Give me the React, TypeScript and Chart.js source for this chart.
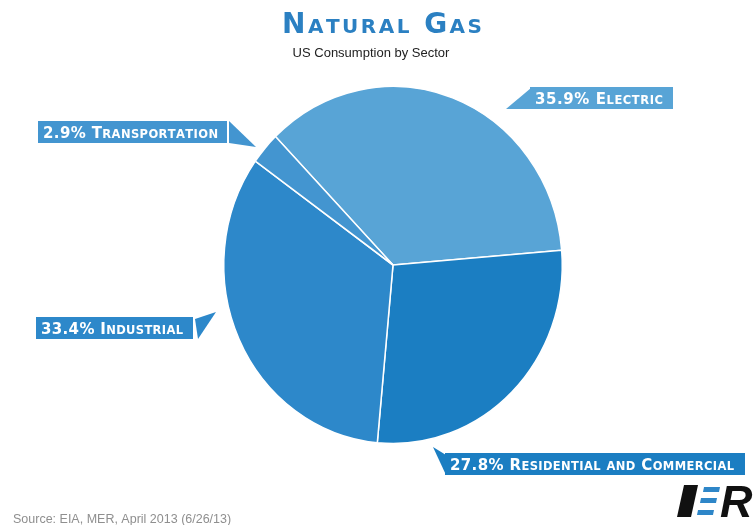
import React, { useEffect, useRef } from "react";
import { Chart, registerables } from "chart.js";

Chart.register(...registerables);

const categories = ["Electric", "Residential and Commercial", "Industrial", "Transportation"];
const shares = [35.9, 27.8, 33.4, 2.9];
const sliceColors = ["#58A4D6", "#1B7EC2", "#2D88CA", "#4395D0"];
const titleText = "Natural Gas";
const subtitleText = "US Consumption by Sector";
const sourceText = "Source: EIA, MER, April 2013 (6/26/13)";

// callout placement (layout only)
const callouts = [
  { box: [530, 87, 143, 22], ptr: [[531, 88], [506, 109], [531, 109]], textW: 128 },
  { box: [445, 453, 300, 22], ptr: [[433, 447], [446, 455], [446, 475]], textW: 284 },
  { box: [36, 317, 157, 22], ptr: [[195, 319], [216, 312], [198, 339]], textW: 142 },
  { box: [38, 121, 189, 22], ptr: [[229, 121], [256, 147], [229, 143]], textW: 175 },
];

function drawSmallCaps(
  ctx: CanvasRenderingContext2D,
  text: string,
  x: number,
  y: number,
  big: number,
  small: number,
  family: string,
  weight: string,
  targetW?: number,
  align: "left" | "center" = "left"
) {
  const parts = [...text].map((ch) => {
    const low = ch !== ch.toUpperCase();
    return { ch: ch.toUpperCase(), size: low ? small : big };
  });
  const widths = parts.map((p) => {
    ctx.font = `${weight} ${p.size}px ${family}`;
    return ctx.measureText(p.ch).width;
  });
  const natural = widths.reduce((a, b) => a + b, 0);
  const sp = targetW ? (targetW - natural) / Math.max(parts.length - 1, 1) : 0;
  const total = natural + sp * (parts.length - 1);
  let cx = align === "center" ? x - total / 2 : x;
  ctx.textBaseline = "alphabetic";
  ctx.textAlign = "left";
  parts.forEach((p, i) => {
    ctx.font = `${weight} ${p.size}px ${family}`;
    ctx.fillText(p.ch, cx, y);
    cx += widths[i] + sp;
  });
}

const ellipsePlugin = {
  id: "ellipse",
  beforeDatasetsDraw(chart: any) {
    const arc = chart.getDatasetMeta(0).data[0];
    const ctx = chart.ctx;
    ctx.save();
    ctx.translate(arc.x, arc.y);
    ctx.scale(1, 1.055);
    ctx.translate(-arc.x, -arc.y);
  },
  afterDatasetsDraw(chart: any) {
    chart.ctx.restore();
  },
};

const decorPlugin = {
  id: "decor",
  afterDraw(chart: any) {
    const ctx: CanvasRenderingContext2D = chart.ctx;
    ctx.save();
    // title
    ctx.fillStyle = "#2B80C2";
    drawSmallCaps(ctx, titleText, 382, 33, 28, 20, "'DejaVu Sans', sans-serif", "bold", 200, "center");
    ctx.fillStyle = "#222222";
    ctx.font = "13px 'Liberation Sans', Arial, sans-serif";
    ctx.textAlign = "center";
    ctx.fillText(subtitleText, 371, 57);

    // callouts
    callouts.forEach((c, i) => {
      const [bx, by, bw, bh] = c.box;
      ctx.fillStyle = sliceColors[i];
      ctx.fillRect(bx, by, bw, bh);
      ctx.beginPath();
      ctx.moveTo(c.ptr[0][0], c.ptr[0][1]);
      ctx.lineTo(c.ptr[1][0], c.ptr[1][1]);
      ctx.lineTo(c.ptr[2][0], c.ptr[2][1]);
      ctx.closePath();
      ctx.fill();
      ctx.fillStyle = "#ffffff";
      const label = `${shares[i].toFixed(1)}% ${categories[i]}`;
      drawSmallCaps(ctx, label, bx + 5, by + bh - 5, 15, 11.5, "'DejaVu Sans', sans-serif", "bold", c.textW);
    });

    // source
    ctx.fillStyle = "#8f8f8f";
    ctx.font = "12.5px 'Liberation Sans', Arial, sans-serif";
    ctx.textAlign = "left";
    ctx.fillText(sourceText, 13, 523);

    // logo
    ctx.fillStyle = "#111111";
    ctx.beginPath();
    ctx.moveTo(684, 485);
    ctx.lineTo(698, 485);
    ctx.lineTo(691, 517);
    ctx.lineTo(677, 517);
    ctx.closePath();
    ctx.fill();
    ctx.fillStyle = "#2E86C8";
    const bars = [
      [703, 487, 16],
      [700, 498, 16],
      [697, 510, 16],
    ];
    bars.forEach(([x, y, w]) => {
      ctx.beginPath();
      ctx.moveTo(x + 1, y);
      ctx.lineTo(x + 1 + w, y);
      ctx.lineTo(x + w, y + 5);
      ctx.lineTo(x, y + 5);
      ctx.closePath();
      ctx.fill();
    });
    ctx.fillStyle = "#111111";
    ctx.font = "italic bold 45px 'Liberation Sans', Arial, sans-serif";
    ctx.fillText("R", 720, 517);
    ctx.restore();
  },
};

export default function App() {
  const ref = useRef<HTMLCanvasElement | null>(null);
  useEffect(() => {
    document.body.style.margin = "0";
    if (!ref.current) return;
    const chart = new Chart(ref.current, {
      type: "pie",
      data: {
        labels: categories,
        datasets: [
          {
            data: shares,
            backgroundColor: sliceColors,
            borderColor: "#ffffff",
            borderWidth: 1.5,
          },
        ],
      },
      options: {
        responsive: false,
        animation: false,
        rotation: 316,
        layout: { padding: { left: 223, right: 192, top: 95, bottom: 90 } },
        plugins: {
          legend: { display: false },
          tooltip: { enabled: false },
          title: { display: false },
        },
      },
      plugins: [ellipsePlugin, decorPlugin],
    });
    return () => chart.destroy();
  }, []);
  return (
    <div style={{ width: 755, height: 525, background: "#ffffff" }}>
      <canvas ref={ref} width={755} height={525} style={{ display: "block" }} />
    </div>
  );
}
